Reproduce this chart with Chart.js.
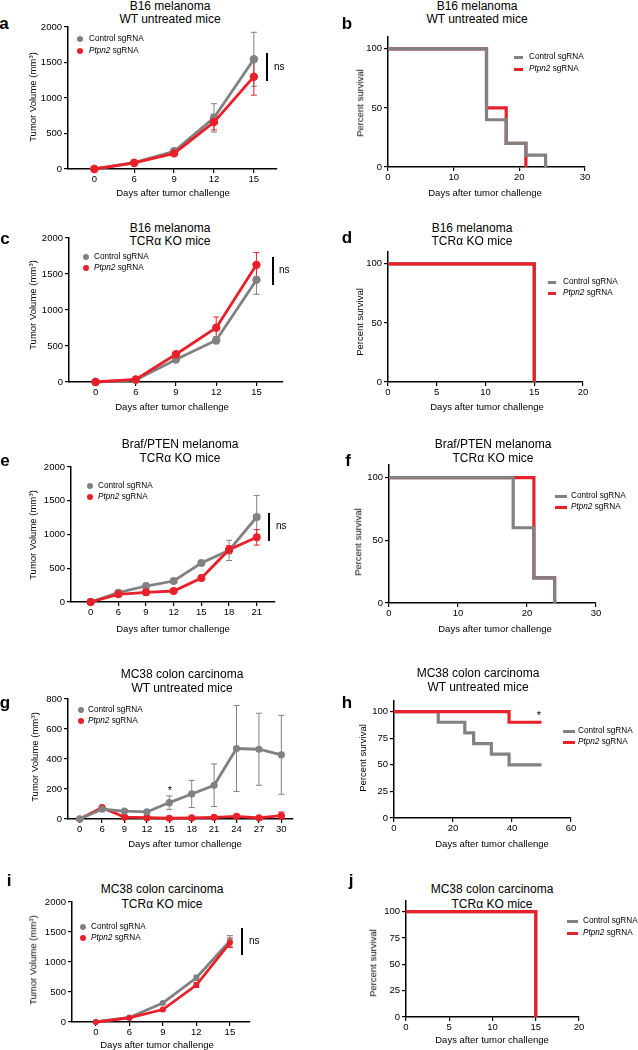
<!DOCTYPE html>
<html>
<head>
<meta charset="utf-8">
<script src="https://cdn.jsdelivr.net/npm/chart.js@4.4.0/dist/chart.umd.min.js"></script>
<style>
  body { margin: 0; background: #fff; }
  #fig { position: relative; width: 638px; height: 1050px; overflow: hidden; font-family: "Liberation Sans", Arial, Helvetica, sans-serif; }
  .t { position: absolute; white-space: nowrap; color: #000; line-height: 1; }
  .t i { font-style: italic; }
  sup { font-size: 0.65em; line-height: 0; vertical-align: 0.5em; }
  .dot { position: absolute; border-radius: 50%; }
  .bar { position: absolute; }
</style>
</head>
<body>
<div id="fig"></div>
<script>
// ---- tumour growth data (mean, sem) ----
// a: B16, WT untreated
const daysA = ['0', '6', '9', '12', '15'];
const ctrlA = [0, 90, 250, 720, 1545];
const ctrlErrA = [0, 10, 40, 200, 380];
const ptpnA = [0, 85, 220, 660, 1300];
const ptpnErrA = [0, 10, 30, 110, 260];

// c: B16, TCRa KO
const daysC = ['0', '6', '9', '12', '15'];
const ctrlC = [0, 30, 312, 580, 1418];
const ctrlErrC = [0, 10, 25, 50, 200];
const ptpnC = [0, 35, 386, 753, 1627];
const ptpnErrC = [0, 10, 30, 150, 170];

// e: Braf/PTEN, TCRa KO
const daysE = ['0', '6', '9', '12', '15', '18', '21'];
const ctrlE = [0, 138, 237, 311, 578, 765, 1259];
const ctrlErrE = [0, 15, 20, 20, 35, 150, 320];
const ptpnE = [0, 114, 143, 163, 356, 775, 958];
const ptpnErrE = [0, 30, 40, 20, 25, 60, 115];

// g: MC38, WT untreated
const daysG = ['0', '6', '9', '12', '15', '18', '21', '24', '27', '30'];
const ctrlG = [0, 65, 53, 47, 109, 167, 225, 470, 465, 428];
const ctrlErrG = [0, 15, 10, 8, 45, 90, 142, 287, 240, 263];
const ptpnG = [0, 76, 13, 9, 5, 7, 11, 18, 7, 22];
const ptpnErrG = [0, 10, 8, 5, 3, 5, 8, 10, 5, 25];

// i: MC38, TCRa KO
const daysI = ['0', '6', '9', '12', '15'];
const ctrlI = [0, 75, 318, 737, 1350];
const ctrlErrI = [0, 10, 20, 45, 90];
const ptpnI = [0, 67, 207, 615, 1320];
const ptpnErrI = [0, 10, 20, 40, 80];

// ---- survival data (day, percent) ----
const survDayB_ctrl = [0, 15, 18, 21, 24];
const survB_ctrl = [100, 40, 20, 10, 0];
const survDayB_ptpn = [0, 15, 18, 21];
const survB_ptpn = [100, 50, 20, 0];

const survDayD_ctrl = [0, 15];
const survD_ctrl = [100, 0];
const survDayD_ptpn = [0, 15];
const survD_ptpn = [100, 0];

const survDayF_ctrl = [0, 18, 21, 24];
const survF_ctrl = [100, 60, 20, 0];
const survDayF_ptpn = [0, 21, 24];
const survF_ptpn = [100, 20, 0];

const survDayH_ctrl = [0, 15, 24, 27, 33, 39, 50];
const survH_ctrl = [100, 90, 80, 70, 60, 50, 50];
const survDayH_ptpn = [0, 39, 50];
const survH_ptpn = [100, 90, 90];

const survDayJ_ctrl = [0, 15];
const survJ_ctrl = [100, 0];
const survDayJ_ptpn = [0, 15];
const survJ_ptpn = [100, 0];

// ---- tick values ----
const volTicks2000 = [0, 500, 1000, 1500, 2000];
const volTicks800 = [0, 200, 400, 600, 800];
const survTicks3 = [0, 50, 100];
const survTicks5 = [0, 25, 50, 75, 100];
const dayTicks30 = [0, 10, 20, 30];
const dayTicks20 = [0, 5, 10, 15, 20];
const dayTicks60 = [0, 20, 40, 60];

const FONT = '"Liberation Sans", Arial, Helvetica, sans-serif';
const GREY = '#818181';
const RED = '#e8202a';
const LEG = 8.2;
const fig = document.getElementById('fig');

// layout constants for each canvas: y-scale width, x-scale height, top/right padding
const YW = 34, XH = 20, PT = 8, PR = 8;

function text(html, x, y, o = {}) {
  const d = document.createElement('div');
  d.className = 't';
  d.innerHTML = html;
  d.style.left = x + 'px';
  d.style.top = y + 'px';
  d.style.fontSize = (o.size || 9.5) + 'px';
  if (o.bold) d.style.fontWeight = 'bold';
  const tx = o.left ? '0' : '-50%';
  d.style.transform = `translate(${tx},-50%)` + (o.rot ? ' rotate(-90deg)' : '');
  fig.appendChild(d);
}

function dotLegend(x, y, color) {
  const d = document.createElement('div');
  d.className = 'dot';
  d.style.cssText += `left:${x - 3}px;top:${y - 3}px;width:6px;height:6px;background:${color}`;
  fig.appendChild(d);
}

function lineLegend(x1, x2, y, color) {
  const d = document.createElement('div');
  d.className = 'bar';
  d.style.cssText += `left:${x1}px;top:${y - 1.5}px;width:${x2 - x1}px;height:3px;background:${color}`;
  fig.appendChild(d);
}

function vline(x, y1, y2) {
  const d = document.createElement('div');
  d.className = 'bar';
  d.style.cssText += `left:${x - 0.75}px;top:${y1}px;width:1.5px;height:${y2 - y1}px;background:#000`;
  fig.appendChild(d);
}

function makeCanvas(b) {
  const c = document.createElement('canvas');
  const w = YW + (b.axR - b.ax) + PR;
  const h = (b.ay0 - b.ayT) + PT + XH;
  c.width = w;
  c.height = h;
  c.style.cssText = `position:absolute;left:${b.ax - YW}px;top:${b.ayT - PT}px;width:${w}px;height:${h}px`;
  fig.appendChild(c);
  return c;
}

function scale(min, max, ticks, isX, labels) {
  return {
    type: 'linear',
    min: min,
    max: max,
    afterBuildTicks: s => { s.ticks = ticks.map(v => ({ value: v })); },
    afterFit: s => { if (isX) s.height = XH; else s.width = YW; },
    grid: { drawOnChartArea: false, tickLength: 4, color: '#000', lineWidth: 1.2 },
    border: { color: '#000', width: 1.5 },
    ticks: {
      color: '#000', font: { family: FONT, size: 9.5 }, padding: isX ? 1 : 2,
      maxRotation: 0, autoSkip: false,
      callback: v => labels ? labels[v] : String(v)
    }
  };
}

// error bars drawn from each dataset's err array
const errorBars = {
  id: 'errorBars',
  beforeDatasetsDraw(chart) {
    const { ctx, scales: { x, y } } = chart;
    chart.data.datasets.forEach(ds => {
      if (!ds.err) return;
      ctx.save();
      ctx.strokeStyle = ds.borderColor;
      ctx.lineWidth = 1;
      ds.data.forEach((p, i) => {
        const e = ds.err[i];
        if (!e) return;
        const px = x.getPixelForValue(p.x);
        const top = y.getPixelForValue(p.y + e);
        const bot = y.getPixelForValue(Math.max(p.y - e, 0));
        ctx.beginPath();
        ctx.moveTo(px, top); ctx.lineTo(px, bot);
        ctx.moveTo(px - 3, top); ctx.lineTo(px + 3, top);
        ctx.moveTo(px - 3, bot); ctx.lineTo(px + 3, bot);
        ctx.stroke();
      });
      ctx.restore();
    });
  }
};

function baseOptions(xs, ys) {
  return {
    responsive: false,
    animation: false,
    layout: { padding: { top: PT, right: PR, left: 0, bottom: 0 } },
    plugins: { legend: { display: false }, tooltip: { enabled: false } },
    scales: { x: xs, y: ys }
  };
}

function tumorChart(b, days, series, xr, yMax, yTicks, radius) {
  new Chart(makeCanvas(b), {
    type: 'line',
    data: {
      datasets: series.map(s => ({
        data: s.vals.map((v, i) => ({ x: i, y: v })),
        err: s.err,
        borderColor: s.color,
        backgroundColor: s.color,
        borderWidth: 2.8,
        pointRadius: radius,
        pointBorderWidth: 0,
        tension: 0,
        clip: false,
        order: s.order
      }))
    },
    options: baseOptions(scale(xr[0], xr[1], days.map((d, i) => i), true, days), scale(0, yMax, yTicks, false)),
    plugins: [errorBars]
  });
}

function survChart(b, xMax, xTicks, yTicks, series) {
  new Chart(makeCanvas(b), {
    type: 'line',
    data: {
      datasets: series.map(s => ({
        data: s.days.map((d, i) => ({ x: d, y: s.surv[i] })),
        stepped: true,
        borderColor: s.color,
        borderWidth: 3.2,
        pointRadius: 0,
        clip: false,
        order: s.order
      }))
    },
    options: baseOptions(scale(0, xMax, xTicks, true), scale(0, 110, yTicks, false))
  });
}

const VOL = 'Tumor Volume (mm<sup>3</sup>)';
const DAYS = 'Days after tumor challenge';

// ---------- a ----------
text('a', 4, 23, { size: 17, bold: true });
text('B16 melanoma', 170, 6, { size: 12 });
text('WT untreated mice', 170, 19, { size: 12 });
tumorChart({ ax: 68, ay0: 169, ayT: 27, axR: 277 }, daysA, [
  { vals: ctrlA, err: ctrlErrA, color: GREY, order: 2 },
  { vals: ptpnA, err: ptpnErrA, color: RED, order: 1 }
], [-0.66, 4.58], 2000, volTicks2000, 4.2);
dotLegend(80, 39, GREY); text('Control sgRNA', 89, 39, { left: true, size: LEG });
dotLegend(80, 51, RED); text('<i>Ptpn2</i> sgRNA', 89, 51, { left: true, size: LEG });
vline(267, 53, 81); text('ns', 274, 67, { left: true, size: 10 });
text(DAYS, 173, 193);
text(VOL, 33, 97, { rot: true });

// ---------- b ----------
text('b', 347, 23, { size: 17, bold: true });
text('B16 melanoma', 477, 6, { size: 12 });
text('WT untreated mice', 477, 19, { size: 12 });
survChart({ ax: 388, ay0: 167, ayT: 37, axR: 585 }, 30, dayTicks30, survTicks3, [
  { days: survDayB_ctrl, surv: survB_ctrl, color: GREY, order: 1 },
  { days: survDayB_ptpn, surv: survB_ptpn, color: RED, order: 2 }
]);
lineLegend(514, 523, 57, GREY); text('Control sgRNA', 529, 57, { left: true, size: LEG });
lineLegend(514, 523, 69, RED); text('<i>Ptpn2</i> sgRNA', 529, 69, { left: true, size: LEG });
text(DAYS, 485, 193);
text('Percent survival', 360, 103, { rot: true });

// ---------- c ----------
text('c', 5, 238, { size: 17, bold: true });
text('B16 melanoma', 170, 228, { size: 12 });
text('TCRα KO mice', 170, 241, { size: 12 });
tumorChart({ ax: 69, ay0: 382, ayT: 238, axR: 283 }, daysC, [
  { vals: ctrlC, err: ctrlErrC, color: GREY, order: 2 },
  { vals: ptpnC, err: ptpnErrC, color: RED, order: 1 }
], [-0.66, 4.66], 2000, volTicks2000, 4.2);
dotLegend(86, 257, GREY); text('Control sgRNA', 94, 257, { left: true, size: LEG });
dotLegend(86, 268, RED); text('<i>Ptpn2</i> sgRNA', 94, 268, { left: true, size: LEG });
vline(273, 257, 285); text('ns', 279, 270, { left: true, size: 10 });
text(DAYS, 172, 407);
text(VOL, 33, 305, { rot: true });

// ---------- d ----------
text('d', 347, 237, { size: 17, bold: true });
text('B16 melanoma', 472, 228, { size: 12 });
text('TCRα KO mice', 472, 241, { size: 12 });
survChart({ ax: 388, ay0: 382, ayT: 252, axR: 583 }, 20, dayTicks20, survTicks3, [
  { days: survDayD_ctrl, surv: survD_ctrl, color: GREY, order: 2 },
  { days: survDayD_ptpn, surv: survD_ptpn, color: RED, order: 1 }
]);
lineLegend(548, 556, 282, GREY); text('Control sgRNA', 563, 282, { left: true, size: LEG });
lineLegend(548, 556, 293, RED); text('<i>Ptpn2</i> sgRNA', 563, 293, { left: true, size: LEG });
text(DAYS, 487, 407);
text('Percent survival', 360, 322, { rot: true });

// ---------- e ----------
text('e', 5, 460, { size: 17, bold: true });
text('Braf/PTEN melanoma', 180, 444, { size: 12 });
text('TCRα KO mice', 180, 458, { size: 12 });
tumorChart({ ax: 71, ay0: 602, ayT: 467, axR: 275 }, daysE, [
  { vals: ctrlE, err: ctrlErrE, color: GREY, order: 2 },
  { vals: ptpnE, err: ptpnErrE, color: RED, order: 1 }
], [-0.71, 6.66], 2000, volTicks2000, 4);
dotLegend(90, 486, GREY); text('Control sgRNA', 98, 486, { left: true, size: LEG });
dotLegend(90, 497, RED); text('<i>Ptpn2</i> sgRNA', 98, 497, { left: true, size: LEG });
vline(269, 513, 541); text('ns', 276, 526, { left: true, size: 10 });
text(DAYS, 173, 629);
text(VOL, 33, 535, { rot: true });

// ---------- f ----------
text('f', 348, 460, { size: 17, bold: true });
text('Braf/PTEN melanoma', 493, 444, { size: 12 });
text('TCRα KO mice', 493, 458, { size: 12 });
survChart({ ax: 389, ay0: 603, ayT: 465, axR: 596 }, 30, dayTicks30, survTicks3, [
  { days: survDayF_ctrl, surv: survF_ctrl, color: GREY, order: 1 },
  { days: survDayF_ptpn, surv: survF_ptpn, color: RED, order: 2 }
]);
lineLegend(555, 567, 496, GREY); text('Control sgRNA', 571, 496, { left: true, size: LEG });
lineLegend(555, 567, 507, RED); text('<i>Ptpn2</i> sgRNA', 571, 507, { left: true, size: LEG });
text(DAYS, 495, 629);
text('Percent survival', 358, 542, { rot: true });

// ---------- g ----------
text('g', 5, 702, { size: 17, bold: true });
text('MC38 colon carcinoma', 182, 674, { size: 12 });
text('WT untreated mice', 182, 688, { size: 12 });
tumorChart({ ax: 68, ay0: 819, ayT: 699, axR: 293 }, daysG, [
  { vals: ctrlG, err: ctrlErrG, color: GREY, order: 1 },
  { vals: ptpnG, err: ptpnErrG, color: RED, order: 2 }
], [-0.52, 9.52], 800, volTicks800, 3.6);
dotLegend(81, 710, GREY); text('Control sgRNA', 88, 710, { left: true, size: LEG });
dotLegend(81, 721, RED); text('<i>Ptpn2</i> sgRNA', 88, 721, { left: true, size: LEG });
text('*', 170, 790, { size: 11 });
text(DAYS, 185, 844);
text(VOL, 35, 757, { rot: true });

// ---------- h ----------
text('h', 347, 702, { size: 17, bold: true });
text('MC38 colon carcinoma', 478, 673, { size: 12 });
text('WT untreated mice', 478, 687, { size: 12 });
survChart({ ax: 394, ay0: 818, ayT: 701, axR: 571 }, 60, dayTicks60, survTicks5, [
  { days: survDayH_ctrl, surv: survH_ctrl, color: GREY, order: 2 },
  { days: survDayH_ptpn, surv: survH_ptpn, color: RED, order: 1 }
]);
lineLegend(563, 575, 731, GREY); text('Control sgRNA', 578, 731, { left: true, size: LEG });
lineLegend(563, 575, 742, RED); text('<i>Ptpn2</i> sgRNA', 578, 742, { left: true, size: LEG });
text('*', 539, 715, { size: 11 });
text(DAYS, 492, 844);
text('Percent survival', 363, 758, { rot: true });

// ---------- i ----------
text('i', 9, 880, { size: 17, bold: true });
text('MC38 colon carcinoma', 162, 889, { size: 12 });
text('TCRα KO mice', 162, 904, { size: 12 });
tumorChart({ ax: 72, ay0: 1022, ayT: 902, axR: 250 }, daysI, [
  { vals: ctrlI, err: ctrlErrI, color: GREY, order: 2 },
  { vals: ptpnI, err: ptpnErrI, color: RED, order: 1 }
], [-0.71, 4.6], 2000, volTicks2000, 3);
dotLegend(83, 927, GREY); text('Control sgRNA', 91, 927, { left: true, size: LEG });
dotLegend(83, 938, RED); text('<i>Ptpn2</i> sgRNA', 91, 938, { left: true, size: LEG });
vline(242, 928, 955); text('ns', 249, 941, { left: true, size: 10 });
text(DAYS, 157, 1045);
text(VOL, 33, 960, { rot: true });

// ---------- j ----------
text('j', 351, 880, { size: 17, bold: true });
text('MC38 colon carcinoma', 492, 889, { size: 12 });
text('TCRα KO mice', 492, 904, { size: 12 });
survChart({ ax: 406, ay0: 1017, ayT: 901, axR: 579 }, 20, dayTicks20, survTicks5, [
  { days: survDayJ_ctrl, surv: survJ_ctrl, color: GREY, order: 2 },
  { days: survDayJ_ptpn, surv: survJ_ptpn, color: RED, order: 1 }
]);
lineLegend(567, 578, 921, GREY); text('Control sgRNA', 583, 921, { left: true, size: LEG });
lineLegend(567, 578, 933, RED); text('<i>Ptpn2</i> sgRNA', 583, 933, { left: true, size: LEG });
text(DAYS, 492, 1040);
text('Percent survival', 373, 963, { rot: true });
</script>
</body>
</html>
